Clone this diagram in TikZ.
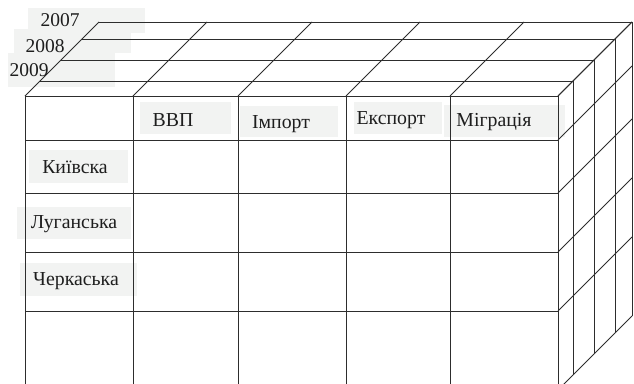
\documentclass[tikz,border=0pt]{standalone}
\usepackage{fontspec}
\setmainfont{Liberation Serif}
\definecolor{boxgray}{RGB}{242,243,242}
\definecolor{linegray}{RGB}{45,45,45}
\definecolor{txtgray}{RGB}{30,30,30}
\tikzset{
  grid/.style={draw=linegray,line width=0.9pt},
  lbl/.style={inner sep=0pt,text=txtgray,font=\fontsize{19.8}{22}\selectfont},
  yearlbl/.style={inner sep=0pt,text=txtgray,font=\fontsize{19.5}{21}\selectfont},
  lblbox/.style={fill=boxgray}
}
\begin{document}
\begin{tikzpicture}[x=1pt,y=-1pt]
\useasboundingbox (0,0) rectangle (634,383);
\clip (0,0) rectangle (634,383);
% label backgrounds
\fill[lblbox] (28,8) rectangle (145,33);
\fill[lblbox] (14,29) rectangle (131,53);
\fill[lblbox] (8,53) rectangle (115,87);
\fill[lblbox] (140,102) rectangle (231,134);
\fill[lblbox] (240,106) rectangle (338,137);
\fill[lblbox] (354,102) rectangle (442,134);
\fill[lblbox] (444,105) rectangle (565,137);
\fill[lblbox] (29,150) rectangle (128,183);
\fill[lblbox] (17,207) rectangle (131,239);
\fill[lblbox] (20,263) rectangle (137,296);
% front face
\foreach \x in {25,133,238,346,450,558}
  \draw[grid] (\x,96) -- (\x,390);
\foreach \y in {96,140,193,252,311,390}
  \draw[grid] (25,\y) -- (558,\y);
% top face
\foreach \d in {15,36,57,74}
  \draw[grid] (25+\d,96-\d) -- (558+\d,96-\d);
\foreach \x in {25,133,238,346,450,558}
  \draw[grid] (\x,96) -- (\x+74,22);
% right face
\foreach \d in {15,36,57,74}
  \draw[grid] (558+\d,96-\d) -- (558+\d,390-\d);
\foreach \y in {96,140,193,252,311,390}
  \draw[grid] (558,\y) -- (632,\y-74);
% texts
\node[yearlbl] (y2007) at (60,20) {2007};
\node[yearlbl] (y2008) at (45,46) {2008};
\node[yearlbl] (y2009) at (29,70) {2009};
\node[lbl] (vvp) at (173,120) {ВВП};
\node[lbl] (imp) at (281,124.5) {Імпорт};
\node[lbl] (exp) at (391,120) {Експорт};
\node[lbl] (migr) at (494,122) {Міграція};
\node[lbl] (kyiv) at (75,167) {Київска};
\node[lbl] (luh) at (74,224) {Луганська};
\node[lbl] (cherk) at (76,281) {Черкаська};
\end{tikzpicture}
\end{document}
